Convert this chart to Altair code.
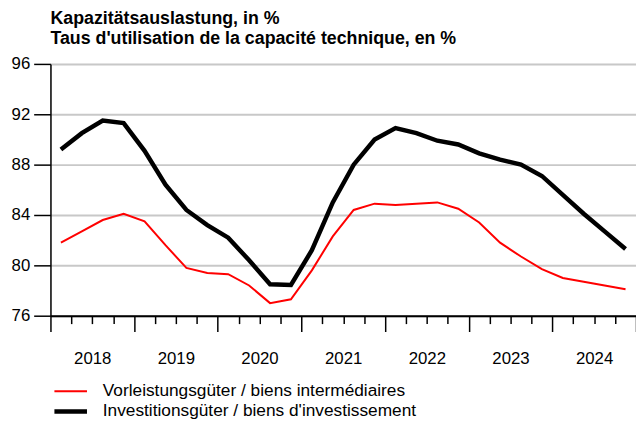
import altair as alt
import pandas as pd

periods = [
    "2018Q1", "2018Q2", "2018Q3", "2018Q4",
    "2019Q1", "2019Q2", "2019Q3", "2019Q4",
    "2020Q1", "2020Q2", "2020Q3", "2020Q4",
    "2021Q1", "2021Q2", "2021Q3", "2021Q4",
    "2022Q1", "2022Q2", "2022Q3", "2022Q4",
    "2023Q1", "2023Q2", "2023Q3", "2023Q4",
    "2024Q1", "2024Q2", "2024Q3", "2024Q4",
]
vorleistung = [81.8, 82.7, 83.6, 84.1, 83.5, 81.6, 79.8, 79.4,
               79.3, 78.4, 77.0, 77.3, 79.6, 82.3, 84.4, 84.9,
               84.8, 84.9, 85.0, 84.5, 83.4, 81.8, 80.7, 79.7,
               79.0, 78.7, 78.4, 78.1]
investition = [89.2, 90.5, 91.5, 91.3, 89.1, 86.4, 84.4, 83.2,
               82.2, 80.4, 78.5, 78.45, 81.2, 85.0, 88.0, 90.0,
               90.9, 90.5, 89.9, 89.6, 88.9, 88.4, 88.0, 87.1,
               85.6, 84.1, 82.7, 81.3]
series_names = ["Vorleistungsgüter / biens intermédiaires",
                "Investitionsgüter / biens d'investissement"]
series_colors = ["#ff0000", "#000000"]
series_widths = [2, 4.5]
y_ticks = [76, 80, 84, 88, 92, 96]
first_year, last_year = 2018, 2025
title_lines = ["Kapazitätsauslastung, in %",
               "Taus d'utilisation de la capacité technique, en %"]

# mid-quarter position on a fractional-year axis
t = [int(p[:4]) + (int(p[-1]) - 0.5) / 4 for p in periods]
df = pd.DataFrame({
    "t": t + t,
    "value": vorleistung + investition,
    "series": [series_names[0]] * len(t) + [series_names[1]] * len(t),
})
quarter_bounds = [first_year + i / 4 for i in range((last_year - first_year) * 4 + 1)]

FONT = "Liberation Sans"

label_expr = "(datum.value % 1 === 0 && datum.value < " + str(last_year) + ") ? toString(datum.value) : ''"

x_axis = alt.Axis(
    values=quarter_bounds,
    title=None,
    grid=False,
    domainColor="black",
    domainWidth=2,
    tickColor="black",
    tickWidth=1.5,
    tickSize={"condition": {"test": "datum.value % 1 === 0", "value": 16}, "value": 8},
    labelExpr=label_expr,
    labelOffset=42.3,
    labelPadding=19,
    labelFlush=False,
    labelOverlap=False,
    labelBound=False,
    labelFont=FONT,
    labelFontSize=17,
    labelColor="black",
)
y_axis = alt.Axis(
    values=y_ticks,
    title=None,
    grid=True,
    gridColor="#c8c8c8",
    gridWidth=2,
    domainColor="black",
    domainWidth=1.5,
    tickColor="black",
    tickWidth=1.5,
    tickSize=17,
    labelPadding=4,
    labelFont=FONT,
    labelFontSize=17,
    labelColor="black",
)

legend_args = dict(title=None, orient="none", legendX=10, legendY=322,
                   symbolType="M-2,0H2", symbolSize=272, labelFont=FONT,
                   labelFontSize=17.5, labelColor="black", labelLimit=0,
                   labelOffset=22, rowPadding=1.5, padding=0)

chart = alt.Chart(df).mark_line(strokeJoin="miter", strokeCap="butt").encode(
    x=alt.X("t:Q", scale=alt.Scale(domain=[first_year, last_year], nice=False, zero=False), axis=x_axis),
    y=alt.Y("value:Q", scale=alt.Scale(domain=[y_ticks[0], y_ticks[-1]], nice=False, zero=False), axis=y_axis),
    color=alt.Color("series:N", scale=alt.Scale(domain=series_names, range=series_colors),
                    legend=alt.Legend(**legend_args)),
    strokeWidth=alt.StrokeWidth("series:N", scale=alt.Scale(domain=series_names, range=series_widths),
                                legend=alt.Legend(**legend_args)),
    order=alt.Order("series:N", sort="descending"),
).properties(
    width=593,
    height=255,
    title=alt.TitleParams(title_lines, anchor="start", frame="group", font=FONT, fontSize=18,
                          fontWeight="bold", color="black", lineHeight=20, offset=7),
    autosize=alt.AutoSizeParams(type="none"),
    padding={"left": 43, "top": 54, "right": 0, "bottom": 104},
).configure_view(stroke=None).configure(background="white")

chart.save("out.html", embed_options={"renderer": "svg", "actions": False})
